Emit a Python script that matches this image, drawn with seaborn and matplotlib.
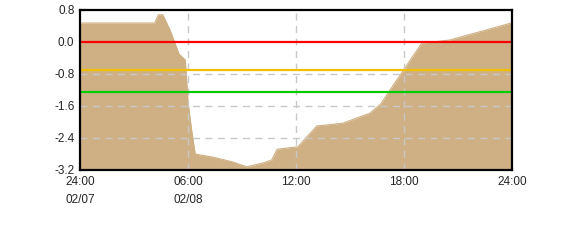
import matplotlib
matplotlib.use("Agg")
import matplotlib.pyplot as plt
import seaborn as sns
import pandas as pd

hours = [0, 4.15, 4.35, 4.6, 5.0, 5.5, 5.85, 6.0, 6.2, 6.4, 7.4, 8.5, 9.25, 10.2, 10.65,
         10.95, 12.1, 13.15, 14.6, 16.1, 16.7, 18.98, 20.55, 24]
levels = [0.475, 0.475, 0.68, 0.68, 0.3, -0.3, -0.45, -1.5, -2.2, -2.8, -2.88, -3.0, -3.12,
          -3.02, -2.95, -2.68, -2.62, -2.1, -2.03, -1.78, -1.55, -0.03, 0.05, 0.48]
thresholds = [0.0, -0.7, -1.24]
threshold_colors = ["#FF0000", "#F0C000", "#00CC00"]
xtick_pos = [0, 6, 12, 18, 24]
xtick_labels = ["24:00\n02/07", "06:00\n02/08", "12:00", "18:00", "24:00"]
ytick_pos = [0.8, 0.0, -0.8, -1.6, -2.4, -3.2]

df = pd.DataFrame({"hour": hours, "level": levels})

sns.set_style("white")
plt.rcParams["font.family"] = ["Liberation Sans", "DejaVu Sans"]

fig = plt.figure(figsize=(5.7, 2.4), dpi=100)
ax = fig.add_axes([80 / 570, 70 / 240, 432 / 570, 160 / 240])

fill_color = "#CFB084"
ax.fill_between(df["hour"], df["level"], -3.2, color=fill_color, lw=0, zorder=1)
sns.lineplot(data=df, x="hour", y="level", ax=ax, color=fill_color, lw=0.8, zorder=1)

for v in [-0.8, -1.6, -2.4]:
    ax.axhline(v, color="#C8C8C8", lw=1, ls=(0, (5, 4)), zorder=2)
for v in [6, 12, 18]:
    ax.axvline(v, color="#C8C8C8", lw=1, ls=(0, (5, 4)), zorder=2)

for t, c in zip(thresholds, threshold_colors):
    ax.axhline(t, color=c, lw=1.6, zorder=3)

ax.set_xlim(0, 24)
ax.set_ylim(-3.2, 0.8)
ax.set_xticks(xtick_pos)
ax.set_xticklabels(xtick_labels, fontsize=8.5, linespacing=1.65, va="top")
ax.set_yticks(ytick_pos)
ax.set_yticklabels([f"{v:.1f}" for v in ytick_pos], fontsize=8.5)
ax.tick_params(axis="x", length=0, pad=4.5)
ax.tick_params(axis="y", direction="in", length=5, width=1.5, pad=4, left=True)
ax.set_xlabel("")
ax.set_ylabel("")
for s in ax.spines.values():
    s.set_color("black")
    s.set_linewidth(1.6)
    s.set_zorder(5)

fig.savefig("out.png", dpi=100)
